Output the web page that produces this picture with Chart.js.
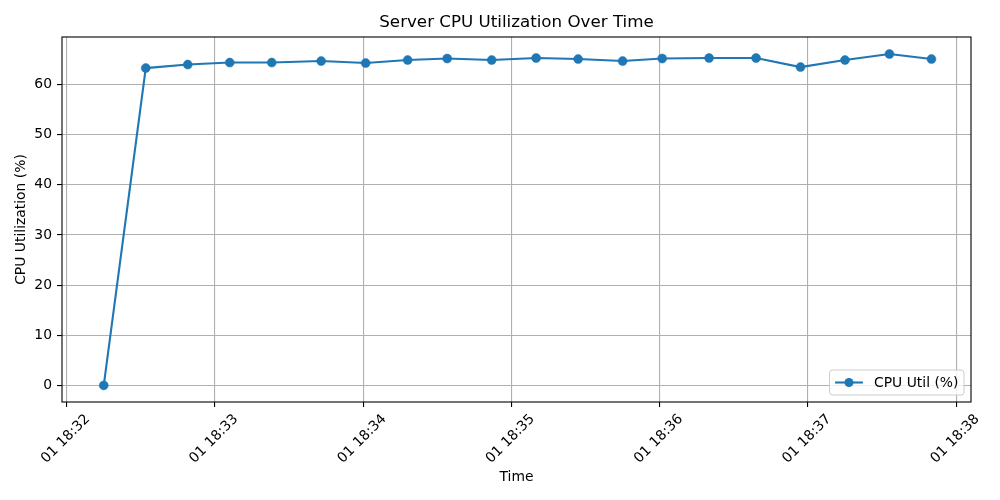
<!DOCTYPE html>
<html><head><meta charset="utf-8">
<script src="https://cdn.jsdelivr.net/npm/chart.js@4.4.1/dist/chart.umd.min.js"></script>
<style>html,body{margin:0;padding:0;background:#fff;} canvas{display:block;}</style>
</head><body>
<canvas id="c" width="1000" height="500"></canvas>
<script>
// ---- data ----
const timeStamps = ["18:32:15","18:32:32","18:32:49","18:33:06","18:33:23","18:33:43","18:34:01","18:34:18","18:34:34","18:34:52","18:35:10","18:35:27","18:35:45","18:36:01","18:36:20","18:36:39","18:36:57","18:37:15","18:37:33","18:37:50"];
const cpuUtil = [0.0,63.3,64.0,64.4,64.4,64.7,64.3,64.9,65.2,64.9,65.3,65.1,64.7,65.2,65.3,65.3,63.5,64.9,66.1,65.1];
const xTickTimes = ["18:32:00","18:33:00","18:34:00","18:35:00","18:36:00","18:37:00","18:38:00"];
const xTickLabels = ["01 18:32","01 18:33","01 18:34","01 18:35","01 18:36","01 18:37","01 18:38"];
const yTicks = [0,10,20,30,40,50,60];
const seriesLabel = "CPU Util (%)";
const chartTitle = "Server CPU Utilization Over Time";
const BASE = "18:32:00";

function toSec(t){const p=t.split(':').map(Number);return p[0]*3600+p[1]*60+p[2];}
const base = toSec(BASE);
const points = timeStamps.map((t,i)=>({x: toSec(t)-base, y: cpuUtil[i]}));
const xTickVals = xTickTimes.map(t=>toSec(t)-base);

const FONT = "'DejaVu Sans', sans-serif";
const FS = 13.9;
const BLUE = '#1f77b4';
Chart.defaults.font.family = FONT;
Chart.defaults.color = '#000';

const framePlugin = {
  id: 'frame',
  afterDatasetsDraw(chart){
    const {ctx, chartArea:a} = chart;
    ctx.save();
    ctx.strokeStyle = '#000';
    ctx.lineWidth = 1.1;
    ctx.strokeRect(a.left, a.top, a.right-a.left, a.bottom-a.top);
    ctx.restore();
  },
  afterDraw(chart){
    const {ctx, chartArea:a} = chart;
    ctx.save();
    // title centered over the axes
    ctx.font = '16.7px ' + FONT;
    ctx.fillStyle = '#000';
    ctx.textAlign = 'center';
    ctx.textBaseline = 'middle';
    ctx.fillText(chartTitle, (a.left + a.right)/2, 23);
    // legend
    ctx.font = FS + 'px ' + FONT;
    const tw = ctx.measureText(seriesLabel).width;
    const pad = 0.4*FS, hl = 2*FS, htp = 0.8*FS;
    const w = pad + hl + htp + tw + pad;
    const h = 25;
    const right = a.right - 7, bottom = a.bottom - 7;
    const x = right - w, y = bottom - h;
    const r = 3;
    ctx.beginPath();
    ctx.moveTo(x+r, y);
    ctx.lineTo(x+w-r, y); ctx.quadraticCurveTo(x+w, y, x+w, y+r);
    ctx.lineTo(x+w, y+h-r); ctx.quadraticCurveTo(x+w, y+h, x+w-r, y+h);
    ctx.lineTo(x+r, y+h); ctx.quadraticCurveTo(x, y+h, x, y+h-r);
    ctx.lineTo(x, y+r); ctx.quadraticCurveTo(x, y, x+r, y);
    ctx.closePath();
    ctx.fillStyle = 'rgba(255,255,255,0.8)';
    ctx.fill();
    ctx.strokeStyle = '#cccccc';
    ctx.lineWidth = 1;
    ctx.stroke();
    const cy = y + h/2;
    ctx.strokeStyle = BLUE; ctx.lineWidth = 2.1;
    ctx.beginPath(); ctx.moveTo(x+pad, cy); ctx.lineTo(x+pad+hl, cy); ctx.stroke();
    ctx.fillStyle = BLUE;
    ctx.beginPath(); ctx.arc(x+pad+hl/2, cy, 4.5, 0, Math.PI*2); ctx.fill();
    ctx.fillStyle = '#000';
    ctx.textBaseline = 'middle';
    ctx.textAlign = 'left';
    ctx.fillText(seriesLabel, x+pad+hl+htp, cy+1);
    ctx.restore();
  }
};

new Chart(document.getElementById('c'), {
  type: 'line',
  data: {
    datasets: [{
      label: seriesLabel,
      data: points,
      borderColor: BLUE,
      backgroundColor: BLUE,
      pointBackgroundColor: BLUE,
      pointBorderColor: BLUE,
      borderWidth: 2.1,
      pointRadius: 4.5,
      pointBorderWidth: 0.5,
      pointHoverRadius: 4.5,
      tension: 0,
      fill: false
    }]
  },
  options: {
    responsive: false,
    animation: false,
    layout: { padding: { left: 0, right: 29, top: 37, bottom: 0 } },
    plugins: {
      legend: { display: false },
      tooltip: { enabled: false },
      title: { display: false }
    },
    scales: {
      x: {
        type: 'linear',
        min: -1.9,
        max: 366,
        afterFit(scale){ scale.height = 98; },
        afterBuildTicks(scale){ scale.ticks = xTickVals.map(v=>({value:v})); },
        border: { display: false },
        grid: { color: '#b0b0b0', lineWidth: 1.1, drawTicks: true, tickLength: 5, tickColor: '#000', tickWidth: 1.1 },
        ticks: {
          minRotation: 45, maxRotation: 45,
          autoSkip: false,
          labelOffset: 21,
          padding: 4,
          color: '#000',
          font: { family: FONT, size: FS },
          callback: (v, i) => xTickLabels[i]
        },
        title: {
          display: true, text: 'Time', color: '#000',
          font: { family: FONT, size: FS, lineHeight: 1.2 },
          padding: { top: 0, bottom: 14.7 }
        }
      },
      y: {
        type: 'linear',
        min: -3.31,
        max: 69.5,
        afterFit(scale){ scale.width = 62; },
        afterBuildTicks(scale){ scale.ticks = yTicks.map(v=>({value:v})); },
        border: { display: false },
        grid: { color: '#b0b0b0', lineWidth: 1.1, drawTicks: true, tickLength: 5, tickColor: '#000', tickWidth: 1.1 },
        ticks: {
          padding: 5,
          color: '#000',
          font: { family: FONT, size: FS },
          callback: (v) => String(v)
        },
        title: {
          display: true, text: 'CPU Utilization (%)', color: '#000',
          font: { family: FONT, size: FS, lineHeight: 1.2 },
          padding: { top: 12.7, bottom: 0 }
        }
      }
    }
  },
  plugins: [framePlugin]
});
</script>
</body></html>
